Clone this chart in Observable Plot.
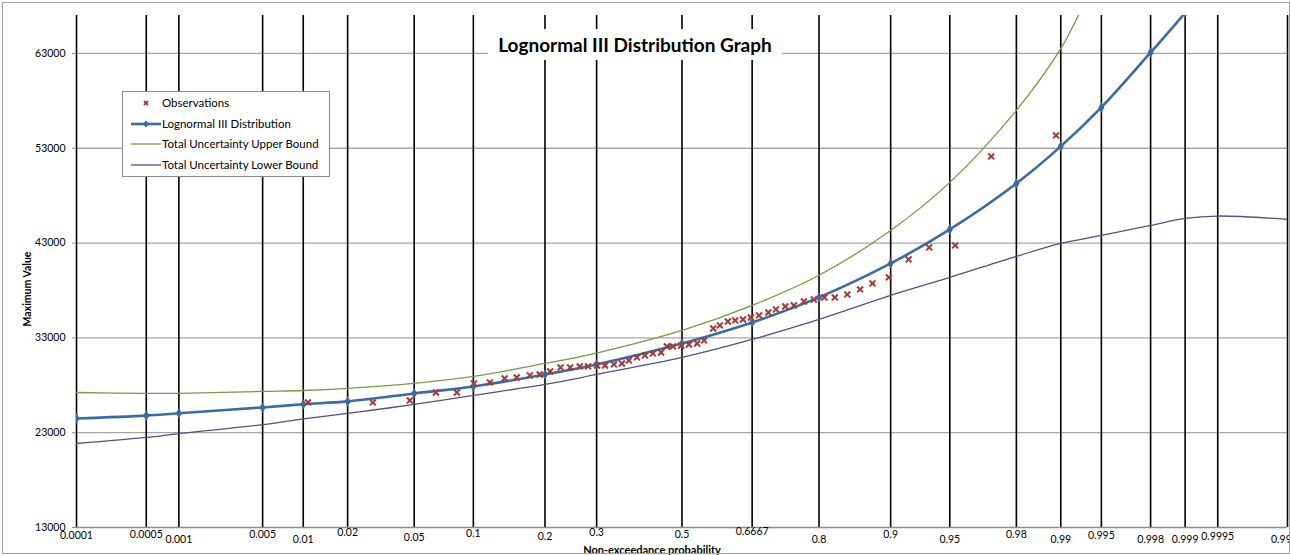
<!DOCTYPE html>
<html><head><meta charset="utf-8">
<script src="https://cdn.jsdelivr.net/npm/d3@7"></script>
<script src="https://cdn.jsdelivr.net/npm/@observablehq/plot@0.6"></script>
<style>
body{margin:0;background:#fff;font-family:Lato,"Liberation Sans",sans-serif;}
#wrap{position:relative;width:1290px;height:555px;overflow:hidden;background:#fff;}
#wrap svg{position:absolute;left:0;top:0;}
#border{position:absolute;left:2px;top:2px;width:1286px;height:550px;border:1px solid #a0a0a0;pointer-events:none;}
#title{position:absolute;left:488px;top:29px;width:294px;height:31px;background:#fff;font-weight:bold;font-size:19px;text-align:center;line-height:31px;color:#000;white-space:nowrap;}
#legend{position:absolute;left:122px;top:91px;width:206px;height:84px;background:#fff;border:1px solid #8c8c8c;font-size:11.5px;}
#legend .row{position:absolute;left:8px;height:16px;line-height:16px;display:flex;align-items:center;white-space:nowrap;}
#legend svg{position:static;margin-right:1px;}
#ylab{position:absolute;left:27px;top:289px;transform:translate(-50%,-50%) rotate(-90deg);font-weight:bold;font-size:10.5px;white-space:nowrap;}
#xlab{position:absolute;left:652px;top:549px;transform:translate(-50%,-50%);font-weight:bold;font-size:11px;white-space:nowrap;}
</style></head>
<body>
<div id="wrap"></div>
<script>
// ---- data ----
const probTicks = [0.0001,0.0005,0.001,0.005,0.01,0.02,0.05,0.1,0.2,0.3,0.5,0.6667,0.8,0.9,0.95,0.98,0.99,0.995,0.998,0.999,0.9995,0.9999];
const probLabels = ["0.0001","0.0005","0.001","0.005","0.01","0.02","0.05","0.1","0.2","0.3","0.5","0.6667","0.8","0.9","0.95","0.98","0.99","0.995","0.998","0.999","0.9995","0.9999"];
const distValues  = [24500,24800,25050,25660,26000,26300,27140,27880,29140,30200,32410,34630,37270,40850,44440,49290,53200,57310,63100,67300,71800,82500];
const upperValues = [27240,27140,27150,27350,27450,27670,28190,28930,30300,31400,33780,36420,39600,44330,49400,57000,63500,71800,80000,87000,94000,110000];
const lowerValues = [21860,22500,22900,23850,24450,25030,25980,26930,28090,29140,30935,32830,34940,37480,39375,41590,42960,43800,44860,45600,45850,45500];
const obsProb = [0.0108,0.0288,0.0473,0.0653,0.0834,0.1006,0.119,0.138,0.155,0.175,0.191,0.209,0.228,0.246,0.265,0.282,0.301,0.318,0.338,0.356,0.372,0.391,0.410,0.429,0.449,0.463,0.478,0.498,0.517,0.537,0.554,0.576,0.592,0.611,0.628,0.646,0.664,0.682,0.702,0.718,0.737,0.754,0.773,0.791,0.809,0.826,0.845,0.863,0.879,0.898,0.918,0.9355,0.9533,0.9712,0.9892];
const obsValue = [26190,26190,26400,27240,27240,28190,28300,28720,28825,29040,29140,29460,29880,29880,29990,29990,30090,30090,30200,30300,30620,30935,31150,31360,31460,32100,32100,32200,32300,32410,32730,33990,34310,34730,34840,34940,35150,35370,35680,36000,36320,36420,36840,37050,37265,37265,37580,38110,38740,39375,41275,42540,42750,52140,54356];
const yTicks = [13000,23000,33000,43000,53000,63000];

// inverse standard normal CDF (Acklam)
function probit(p){
  const a=[-3.969683028665376e+01,2.209460984245205e+02,-2.759285104469687e+02,1.383577518672690e+02,-3.066479806614716e+01,2.506628277459239e+00];
  const b=[-5.447609879822406e+01,1.615858368580409e+02,-1.556989798598866e+02,6.680131188771972e+01,-1.328068155288572e+01];
  const c=[-7.784894002430293e-03,-3.223964580411365e-01,-2.400758277161838e+00,-2.549732539343734e+00,4.374664141464968e+00,2.938163982698783e+00];
  const d=[7.784695709041462e-03,3.224671290700398e-01,2.445134137142996e+00,3.754408661907416e+00];
  const pl=0.02425, ph=1-pl; let q,r;
  if(p<pl){q=Math.sqrt(-2*Math.log(p));return (((((c[0]*q+c[1])*q+c[2])*q+c[3])*q+c[4])*q+c[5])/((((d[0]*q+d[1])*q+d[2])*q+d[3])*q+1);}
  if(p<=ph){q=p-0.5;r=q*q;return (((((a[0]*r+a[1])*r+a[2])*r+a[3])*r+a[4])*r+a[5])*q/(((((b[0]*r+b[1])*r+b[2])*r+b[3])*r+b[4])*r+1);}
  q=Math.sqrt(-2*Math.log(1-p));return -(((((c[0]*q+c[1])*q+c[2])*q+c[3])*q+c[4])*q+c[5])/((((d[0]*q+d[1])*q+d[2])*q+d[3])*q+1);
}

const BLUE="#3a6ba3", GREEN="#7a9a3c", PURPLE="#5e4a85", RED="#a33a3a";
const dist = probTicks.map((p,i)=>({p, v: distValues[i]}));
const upper = probTicks.map((p,i)=>({p, v: upperValues[i]}));
const lower = probTicks.map((p,i)=>({p, v: lowerValues[i]}));
const obs = obsProb.map((p,i)=>({p, v: obsValue[i]}));
const labelDy = [11,10,15,10,15,8,13,9,12,8,10,7,15,10,15,10,15,11,15,15,12,15];

const labelMarks = probTicks.map((p,i)=>Plot.text([p],{x:d=>d, frameAnchor:"bottom", dy:labelDy[i], text:()=>probLabels[i], fontSize:10.5, fill:"#000"}));

const chart = Plot.plot({
  width:1290, height:555,
  marginLeft:76, marginRight:3, marginTop:15, marginBottom:28,
  style:{fontFamily:'Lato,"Liberation Sans",sans-serif', fontSize:"10.5px", color:"#000", background:"transparent", overflow:"visible"},
  x:{type:"linear", transform:probit, domain:[probit(0.0001), probit(0.9999)], axis:null},
  y:{domain:[13000,67000], axis:null},
  marks:[
    Plot.ruleY(yTicks.slice(1),{stroke:"#a6a6a6", strokeWidth:1.3}),
    Plot.ruleX(probTicks,{x:d=>d, stroke:"#000", strokeWidth:1.6}),
    Plot.ruleY([13000],{stroke:"#8c8c8c", strokeWidth:1.3}),
    Plot.axisY(yTicks,{tickSize:4, tickPadding:7, stroke:"#8c8c8c", fontSize:10.5, label:null, tickFormat:d=>String(d)}),
    Plot.line(lower,{x:"p", y:"v", stroke:PURPLE, strokeWidth:1.3, curve:"catmull-rom", clip:true}),
    Plot.line(upper,{x:"p", y:"v", stroke:GREEN, strokeWidth:1.3, curve:"catmull-rom", clip:true}),
    Plot.line(dist,{x:"p", y:"v", stroke:BLUE, strokeWidth:2.6, curve:"catmull-rom", clip:true}),
    Plot.dot(dist,{x:"p", y:"v", symbol:"diamond", fill:BLUE, r:3.2, clip:true}),
    Plot.dot(obs,{x:"p", y:"v", symbol:"times", stroke:RED, strokeWidth:2, r:2.8}),
    ...labelMarks
  ]
});
const wrap = document.getElementById("wrap");
wrap.appendChild(chart);

function sample(kind){
  const ns="http://www.w3.org/2000/svg";
  const s=document.createElementNS(ns,"svg"); s.setAttribute("width","30"); s.setAttribute("height","12");
  if(kind==="obs"){
    const p=document.createElementNS(ns,"path"); p.setAttribute("d","M13,4L17,8M17,4L13,8"); p.setAttribute("stroke",RED); p.setAttribute("stroke-width","1.8"); s.appendChild(p);
  } else {
    const col = kind==="dist"?BLUE:kind==="up"?GREEN:PURPLE;
    const l=document.createElementNS(ns,"line"); l.setAttribute("x1","0"); l.setAttribute("x2","30"); l.setAttribute("y1","6"); l.setAttribute("y2","6");
    l.setAttribute("stroke",col); l.setAttribute("stroke-width",kind==="dist"?"2.6":"1.3"); s.appendChild(l);
    if(kind==="dist"){const p=document.createElementNS(ns,"path"); p.setAttribute("d","M15,2.6L18.4,6L15,9.4L11.6,6Z"); p.setAttribute("fill",BLUE); s.appendChild(p);}
  }
  return s;
}
const legend=document.createElement("div"); legend.id="legend";
[["obs","Observations"],["dist","Lognormal III Distribution"],["up","Total Uncertainty Upper Bound"],["low","Total Uncertainty Lower Bound"]].forEach(([k,t],i)=>{
  const r=document.createElement("div"); r.className="row"; r.style.top=(3+i*20.5)+"px";
  r.appendChild(sample(k)); const sp=document.createElement("span"); sp.textContent=t; r.appendChild(sp); legend.appendChild(r);
});
wrap.appendChild(legend);
const title=document.createElement("div"); title.id="title"; title.textContent="Lognormal III Distribution Graph"; wrap.appendChild(title);
const yl=document.createElement("div"); yl.id="ylab"; yl.textContent="Maximum Value"; wrap.appendChild(yl);
const xl=document.createElement("div"); xl.id="xlab"; xl.textContent="Non-exceedance probability"; wrap.appendChild(xl);
const b=document.createElement("div"); b.id="border"; wrap.appendChild(b);
</script>
</body></html>
